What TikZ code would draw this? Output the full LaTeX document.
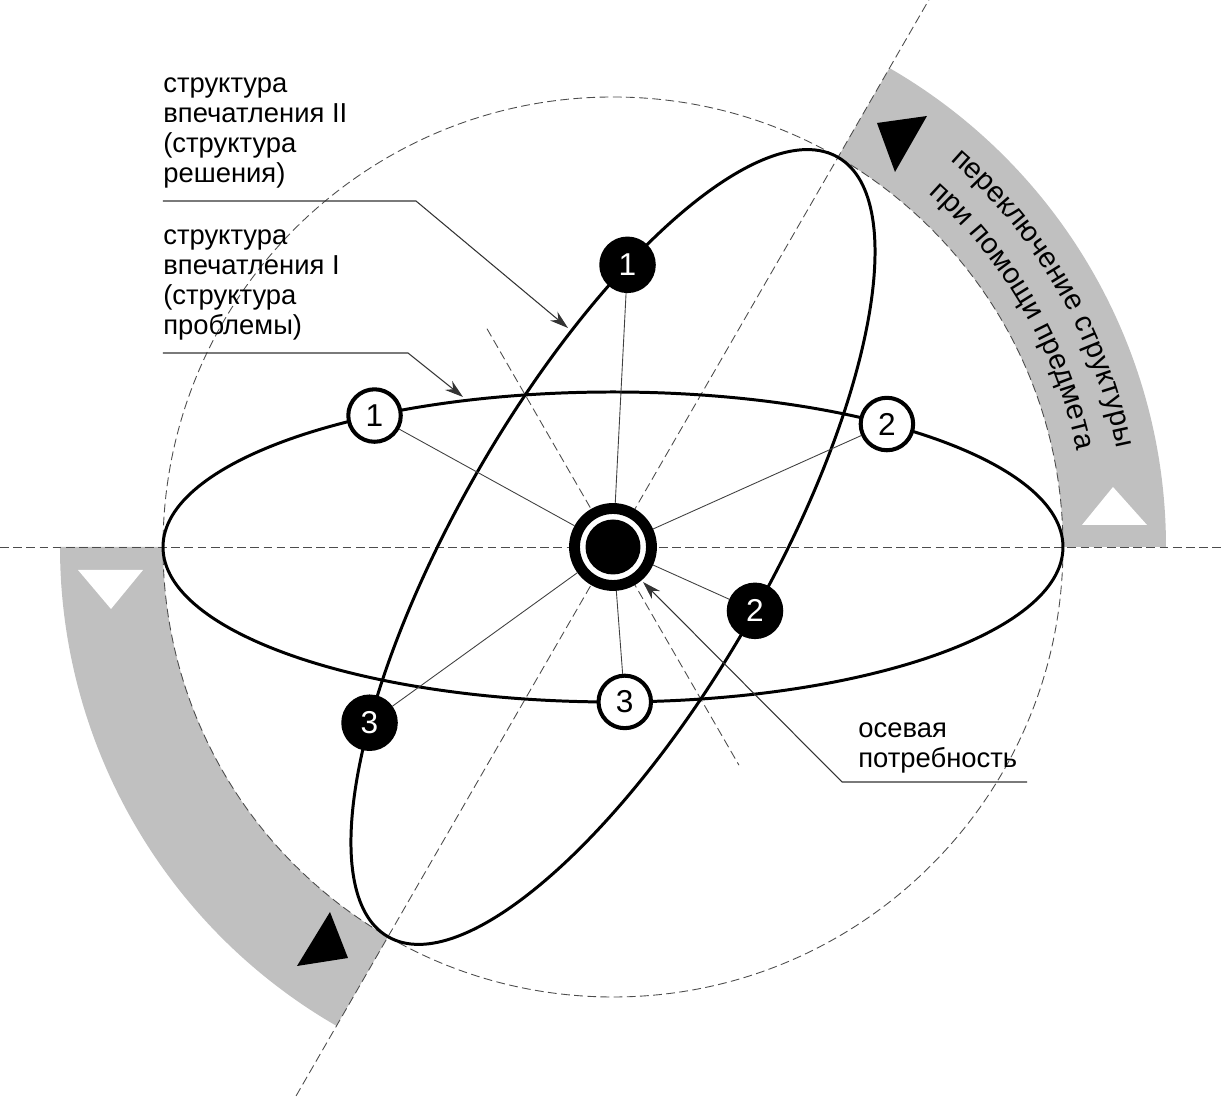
\documentclass[tikz,border=0pt]{standalone}
\usepackage{fontspec}
\setmainfont{Liberation Sans}
\usetikzlibrary{arrows.meta,decorations.text}

\definecolor{bandgray}{RGB}{192,192,192}

\begin{document}
\begin{tikzpicture}[x=0.02cm,y=0.02cm,>={Stealth[length=10.5pt,width=6.5pt]},
                    line join=round]
  \tikzstyle{orbit}=[line width=1.7pt]
  \tikzstyle{axis line}=[black!70,line width=0.5pt,dash pattern=on 5pt off 2.5pt]
  \tikzstyle{spoke}=[black!75,line width=0.5pt]
  \tikzstyle{leader}=[black!80,line width=0.6pt]
  \tikzstyle{item}=[circle,draw=black,line width=2.3pt,inner sep=0pt,minimum size=1.05cm,
                    font=\fontsize{18}{18}\selectfont]
  \tikzstyle{open item}=[item,fill=white,text=black]
  \tikzstyle{solid item}=[item,fill=black,text=white]
  \tikzstyle{hub}=[circle,draw=black,line width=6.2pt,inner sep=0pt,minimum size=1.54cm,fill=white,
                   path picture={\fill[black] (path picture bounding box.center) circle[radius=0.55cm];}]
  \tikzstyle{caption}=[align=left,anchor=base west,inner sep=0pt,
                       font=\fontsize{15.6}{17.2}\selectfont]
  \tikzstyle{band text}=[decorate,decoration={text along path,text align=center,
                         text={|\fontsize{16.5}{16.5}\selectfont|#1}}]

  \useasboundingbox (-613,-550) rectangle (612,547);
  \clip (-613,-550) rectangle (612,547);

  \fill[bandgray] (0:450) arc[start angle=0,end angle=60,radius=450]
    -- (60:553) arc[start angle=60,end angle=0,radius=553] -- cycle;
  \fill[bandgray] (180:450) arc[start angle=180,end angle=240,radius=450]
    -- (240:553) arc[start angle=240,end angle=180,radius=553] -- cycle;

  \fill[black] (264,424) -- (314,431) -- (282,375) -- cycle;
  \fill[white] (469,22) -- (534,22) -- (500,60) -- cycle;
  \fill[white] (-535,-23) -- (-470,-23) -- (-502,-62) -- cycle;
  \fill[black] (-283,-365) -- (-265,-411) -- (-316,-419) -- cycle;

  \path[band text={переключение структуры}] (60:513) arc[start angle=60,end angle=0,radius=513];
  \path[band text={при помощи предмета}] (60:474) arc[start angle=60,end angle=0,radius=474];

  \draw[axis line] (0,0) circle[radius=450];
  \draw[axis line] (-613,0) -- (612,0);
  \draw[axis line] (60:640) -- (240:640);
  \draw[axis line] (120:252) -- (300:252);

  \draw[orbit] (0,0) ellipse[x radius=450,y radius=155];
  \draw[orbit,rotate=60] (0,0) ellipse[x radius=450,y radius=155];

  \node[hub] (need) at (0,0) {};
  \node[open item] (p1) at ({450*cos(122)},{155*sin(122)}) {1};
  \node[open item] (p2) at ({450*cos(52.5)},{155*sin(52.5)}) {2};
  \node[open item] (p3) at ({450*cos(271.5)},{155*sin(271.5)}) {3};
  \begin{scope}[rotate=60]
    \node[solid item] (s1) at ({450*cos(56)},{155*sin(56)}) {1};
    \node[solid item] (s2) at ({450*cos(272)},{155*sin(272)}) {2};
    \node[solid item] (s3) at ({450*cos(127.5)},{155*sin(127.5)}) {3};
  \end{scope}

  \foreach \n in {p1,p2,p3,s1,s2,s3}
    \draw[spoke] (need) -- (\n);

  \node[caption] (cap2) at (-450,364) {структура\\впечатления II\\(структура\\решения)};
  \node[caption] (cap1) at (-450,212) {структура\\впечатления I\\(структура\\проблемы)};
  \node[caption] (capn) at (245,-221) {осевая\\потребность};

  \coordinate (foot2) at (-450,346);
  \coordinate (bend2) at (-197,346);
  \coordinate (tip2) at (-45,219);
  \coordinate (foot1) at (-450,194);
  \coordinate (bend1) at (-205,194);
  \coordinate (tip1) at (-150,150);
  \coordinate (footn) at (414,-235);
  \coordinate (bendn) at (229,-235);
  \coordinate (tipn) at (30,-35);

  \draw[leader,->] (foot2) -- (bend2) -- (tip2);
  \draw[leader,->] (foot1) -- (bend1) -- (tip1);
  \draw[leader,->] (footn) -- (bendn) -- (tipn);
\end{tikzpicture}
\end{document}
